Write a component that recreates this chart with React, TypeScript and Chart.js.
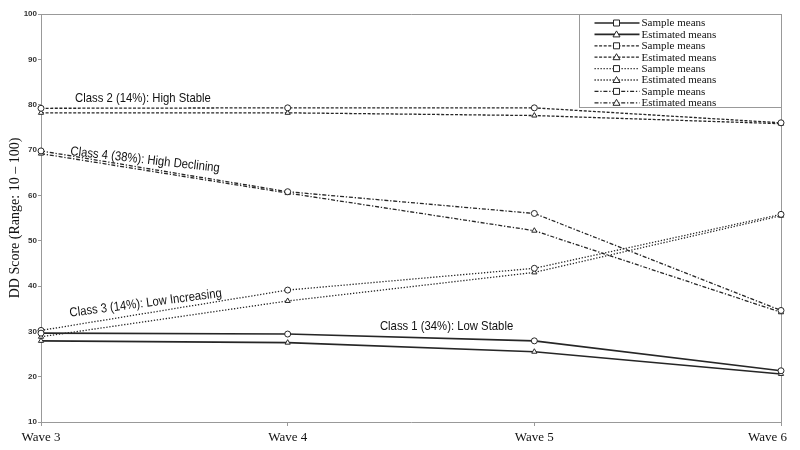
import React, { useEffect, useRef } from "react";
import { Chart, registerables } from "chart.js";

Chart.register(...registerables);

const categories = ["Wave 3", "Wave 4", "Wave 5", "Wave 6"];
const class1Sample = [29.6, 29.4, 27.9, 21.3];
const class1Est = [27.9, 27.5, 25.5, 20.6];
const class2Sample = [79.2, 79.3, 79.3, 76.0];
const class2Est = [78.2, 78.2, 77.6, 75.8];
const class3Sample = [30.2, 39.1, 43.9, 55.8];
const class3Est = [28.8, 36.7, 43.0, 55.5];
const class4Sample = [69.8, 60.8, 56.0, 34.6];
const class4Est = [69.2, 60.5, 52.2, 34.2];

const legendLabels = [
  "Sample means",
  "Estimated means",
  "Sample means",
  "Estimated means",
  "Sample means",
  "Estimated means",
  "Sample means",
  "Estimated means",
];

const yTitle = "DD Score (Range: 10 \u2013 100)";

// text, x (category index, fractional), y (value at baseline), angle in degrees
const annotations: [string, number, number, number][] = [
  ["Class 2 (14%): High Stable", 0.138, 80.6, 0],
  ["Class 4 (38%): High Declining", 0.118, 68.9, 6.5],
  ["Class 3 (14%): Low Increasing", 0.118, 33.2, -7.5],
  ["Class 1 (34%): Low Stable", 1.374, 30.3, 0],
];

const DASH_SOLID: number[] = [];
const DASH_DASHED = [3, 1.6];
const DASH_DOTTED = [1.3, 1.7];
const DASH_DASHDOT = [4, 1.8, 1.3, 1.8];

function makeDs(data: number[], dash: number[], est: boolean, width: number, idx: number) {
  return {
    label: legendLabels[idx],
    data,
    borderColor: "#262626",
    borderWidth: width,
    borderDash: dash,
    pointStyle: est ? "triangle" : "circle",
    pointRadius: est ? 3 : 3,
    pointBackgroundColor: "#ffffff",
    pointBorderColor: "#262626",
    pointBorderWidth: 1,
    fill: false,
    tension: 0,
  };
}

const framePlugin = {
  id: "frame",
  beforeDatasetsDraw(chart: any) {
    const { ctx, chartArea } = chart;
    ctx.save();
    ctx.strokeStyle = "#999";
    ctx.lineWidth = 1;
    ctx.beginPath();
    ctx.moveTo(chartArea.left, chartArea.top + 0.5);
    ctx.lineTo(chartArea.right + 0.5, chartArea.top + 0.5);
    ctx.lineTo(chartArea.right + 0.5, chartArea.bottom);
    ctx.stroke();
    ctx.restore();
  },
};

const xLabelPlugin = {
  id: "xlabels",
  afterDraw(chart: any) {
    const { ctx } = chart;
    const xs = chart.scales.x;
    ctx.save();
    ctx.fillStyle = "#111";
    ctx.font = '13px "Liberation Serif", "Times New Roman", serif';
    ctx.textBaseline = "alphabetic";
    categories.forEach((c, i) => {
      const x = xs.getPixelForTick(i);
      if (i === categories.length - 1) {
        ctx.textAlign = "right";
        ctx.fillText(c, x + 6, 441);
      } else {
        ctx.textAlign = "center";
        ctx.fillText(c, x, 441);
      }
    });
    ctx.restore();
  },
};

const annotationPlugin = {
  id: "annots",
  afterDatasetsDraw(chart: any) {
    const { ctx } = chart;
    const xs = chart.scales.x;
    const ys = chart.scales.y;
    const step = xs.getPixelForTick(1) - xs.getPixelForTick(0);
    ctx.save();
    ctx.fillStyle = "#111";
    ctx.font = '13px "Liberation Sans", Arial, sans-serif';
    ctx.textAlign = "left";
    ctx.textBaseline = "alphabetic";
    annotations.forEach(([t, xi, yv, ang]) => {
      const px = xs.getPixelForTick(0) + xi * step;
      const py = ys.getPixelForValue(yv);
      ctx.save();
      ctx.translate(px, py);
      ctx.rotate((ang * Math.PI) / 180);
      ctx.scale(0.87, 1);
      ctx.fillText(t, 0, 0);
      ctx.restore();
    });
    ctx.restore();
  },
};

const legendPlugin = {
  id: "customLegend",
  afterDatasetsDraw(chart: any) {
    const { ctx, chartArea } = chart;
    const right = chartArea.right + 0.5;
    const left = right - 202;
    const top = chartArea.top + 0.5;
    const bottom = top + 93;
    ctx.save();
    ctx.fillStyle = "#fff";
    ctx.fillRect(left, top, right - left, bottom - top);
    ctx.strokeStyle = "#999";
    ctx.lineWidth = 1;
    ctx.strokeRect(left, top, right - left, bottom - top);
    chart.data.datasets.forEach((ds: any, i: number) => {
      const y = top + 8.5 + i * 11.4;
      const x0 = left + 15;
      const x1 = left + 60;
      const mx = left + 37;
      ctx.strokeStyle = "#262626";
      ctx.lineWidth = ds.borderWidth;
      ctx.setLineDash(ds.borderDash);
      ctx.beginPath();
      ctx.moveTo(x0, y);
      ctx.lineTo(x1, y);
      ctx.stroke();
      ctx.setLineDash([]);
      ctx.lineWidth = 1;
      ctx.fillStyle = "#fff";
      ctx.beginPath();
      if (ds.pointStyle === "triangle") {
        ctx.moveTo(mx, y - 3.5);
        ctx.lineTo(mx + 3.5, y + 2.5);
        ctx.lineTo(mx - 3.5, y + 2.5);
        ctx.closePath();
      } else {
        ctx.rect(mx - 3, y - 3, 6, 6);
      }
      ctx.fill();
      ctx.stroke();
      ctx.fillStyle = "#111";
      ctx.font = '11px "Liberation Serif", "Times New Roman", serif';
      ctx.textAlign = "left";
      ctx.textBaseline = "middle";
      ctx.fillText(ds.label, x1 + 2, y + 0.5);
    });
    ctx.restore();
  },
};

export default function App() {
  const ref = useRef<HTMLCanvasElement | null>(null);
  useEffect(() => {
    if (!ref.current) return;
    const chart = new Chart(ref.current, {
      type: "line",
      data: {
        labels: categories,
        datasets: [
          makeDs(class1Sample, DASH_SOLID, false, 1.6, 0),
          makeDs(class1Est, DASH_SOLID, true, 1.6, 1),
          makeDs(class2Sample, DASH_DASHED, false, 1.3, 2),
          makeDs(class2Est, DASH_DASHED, true, 1.3, 3),
          makeDs(class3Sample, DASH_DOTTED, false, 1.3, 4),
          makeDs(class3Est, DASH_DOTTED, true, 1.3, 5),
          makeDs(class4Sample, DASH_DASHDOT, false, 1.3, 6),
          makeDs(class4Est, DASH_DASHDOT, true, 1.3, 7),
        ] as any,
      },
      options: {
        animation: false,
        responsive: false,
        layout: { padding: { left: 0, right: 19, top: 14, bottom: 0 } },
        plugins: {
          legend: { display: false },
          tooltip: { enabled: false },
        },
        scales: {
          x: {
            type: "category",
            offset: false,
            ticks: { display: false },
            grid: { drawOnChartArea: false, drawTicks: true, tickLength: 4, color: "#999" },
            border: { display: true, color: "#999" },
            afterFit(s: any) {
              s.height = 28;
            },
          },
          y: {
            min: 10,
            max: 100,
            ticks: {
              stepSize: 10,
              color: "#333",
              padding: 1,
              font: { family: '"Liberation Sans", Arial, sans-serif', size: 8, weight: "bold" },
            },
            grid: { drawOnChartArea: false, drawTicks: true, tickLength: 3, color: "#999" },
            border: { display: true, color: "#999" },
            title: {
              display: true,
              text: yTitle,
              color: "#111",
              font: { family: '"Liberation Serif", "Times New Roman", serif', size: 14 },
              padding: { top: 7, bottom: 0 },
            },
            afterFit(s: any) {
              s.width = 41;
            },
          },
        },
      },
      plugins: [framePlugin, annotationPlugin, legendPlugin, xLabelPlugin],
    });
    return () => chart.destroy();
  }, []);
  return (
    <div style={{ position: "fixed", left: 0, top: 0, width: 800, height: 450, background: "#fff" }}>
      <canvas ref={ref} width={800} height={450} style={{ width: 800, height: 450 }} />
    </div>
  );
}
